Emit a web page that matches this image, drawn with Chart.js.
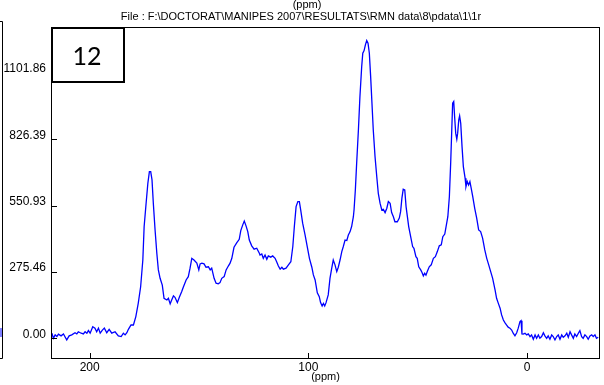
<!DOCTYPE html>
<html>
<head>
<meta charset="utf-8">
<script src="https://cdn.jsdelivr.net/npm/chart.js@4"></script>
<style>
  html, body { margin: 0; padding: 0; background: #fff; }
  canvas { display: block; }
</style>
</head>
<body>
<canvas id="nmrChart" width="604" height="385"></canvas>
<script>
let topTitle = "(ppm)";
let fileTitle = "File : F:\\DOCTORAT\\MANIPES 2007\\RESULTATS\\RMN data\\8\\pdata\\1\\1r";
let xTitle = "(ppm)";
let boxLabel = "12";

let xTicks = [200, 100, 0];
let yTicks = [0, 275.46, 550.93, 826.39, 1101.86];

// chemical shift (ppm)
let ppm = [
  217.3, 216.6, 215.8, 215.0, 214.3, 213.1, 212.0, 210.5, 209.4, 208.2,
  206.7, 205.9, 205.2, 203.9, 202.9, 202.1, 201.3, 200.6, 199.8, 198.6,
  197.6, 196.8, 196.0, 195.2, 194.2, 193.3, 192.2, 191.1, 189.9, 188.4,
  186.9, 185.6, 184.6, 183.8, 183.0, 182.3, 181.1, 180.0, 178.9, 177.8,
  176.7, 175.7, 175.1, 174.2, 173.4, 172.7, 172.1, 171.5, 170.9, 170.1,
  169.3, 168.6, 167.8, 166.8, 166.0, 164.7, 164.0, 163.2, 162.5, 161.7,
  161.0, 159.9, 159.0, 157.9, 157.2, 155.9, 154.9, 154.1, 153.3, 152.3,
  151.0, 150.1, 149.5, 148.7, 147.7, 146.8, 145.7, 144.9, 144.2, 143.1,
  142.2, 141.2, 140.4, 139.6, 138.5, 137.6, 136.6, 135.8, 135.0, 134.0,
  132.7, 131.6, 130.9, 130.0, 129.3, 128.5, 127.7, 127.0, 125.9, 124.8,
  123.6, 122.4, 122.1, 121.3, 120.6, 119.8, 119.0, 118.3, 117.2, 116.3,
  115.2, 114.5, 113.7, 112.9, 112.1, 111.4, 110.2, 109.1, 108.0, 107.1,
  106.4, 105.6, 104.8, 104.1, 103.5, 102.6, 101.5, 100.5, 99.5, 98.4,
  97.7, 96.9, 95.9, 95.0, 94.4, 93.7, 93.1, 92.5, 91.9, 90.9,
  90.1, 89.3, 88.6, 87.8, 87.0, 86.3, 85.5, 84.7, 84.0, 83.2,
  82.4, 81.7, 80.9, 80.2, 79.4, 79.1, 78.5, 77.9, 77.1, 76.4,
  75.6, 75.1, 74.5, 73.9, 73.3, 72.7, 72.1, 71.5, 70.9, 70.3,
  69.5, 68.7, 68.0, 67.2, 66.4, 65.7, 64.9, 64.1, 63.4, 62.6,
  61.9, 61.1, 60.4, 59.3, 58.4, 57.8, 57.2, 56.6, 55.9, 55.3,
  54.7, 54.1, 53.2, 52.3, 51.7, 50.8, 50.2, 49.5, 48.6, 48.0,
  47.4, 46.8, 46.2, 45.6, 44.7, 43.8, 42.8, 41.9, 41.0, 40.1,
  39.2, 38.5, 37.6, 37.0, 36.2, 35.5, 34.9, 34.4, 34.0, 33.5,
  33.1, 32.6, 32.1, 31.7, 31.2, 30.8, 30.3, 29.7, 29.1, 28.3,
  27.9, 27.3, 26.7, 26.1, 25.5, 24.8, 23.9, 23.0, 22.1, 21.2,
  20.3, 19.3, 18.4, 17.5, 16.6, 15.7, 14.6, 13.9, 13.1, 12.3,
  11.6, 10.8, 10.1, 9.3, 8.6, 7.8, 7.0, 6.3, 5.5, 4.7,
  4.0, 3.2, 2.7, 2.3, 1.7, 0.9, 0.1, -0.6, -1.4, -2.1,
  -2.9, -3.7, -4.4, -5.2, -5.9, -6.7, -7.5, -8.2, -9.0, -9.7,
  -10.5, -11.3, -12.0, -12.8, -13.6, -14.3, -15.1, -15.9, -16.6, -17.4,
  -18.2, -18.9, -19.7, -20.4, -21.2, -21.9, -22.7, -23.5, -24.2, -25.0,
  -25.7, -26.5, -27.3, -28.0, -28.8, -29.6, -30.3, -31.1, -31.8, -32.6
];

// intensity at each shift
let intensity = [
  21, 0, 14, 7, 17, 10, 18, -7, 10, 14,
  23, 18, 27, 21, 18, 27, 21, 32, 21, 48,
  42, 27, 42, 21, 34, 42, 23, 37, 21, 27,
  10, 7, 21, 14, 23, 37, 55, 55, 90, 145,
  214, 325, 464, 561, 644, 692, 692, 658, 561, 450,
  353, 284, 249, 221, 166, 159, 166, 143, 159, 176,
  170, 148, 170, 194, 212, 242, 256, 291, 332, 325,
  312, 284, 309, 312, 309, 295, 297, 284, 291, 249,
  229, 226, 231, 249, 256, 284, 300, 312, 332, 378,
  397, 411, 447, 471, 487, 467, 443, 408, 384, 370,
  374, 353, 346, 350, 332, 346, 328, 342, 337, 342,
  332, 318, 300, 287, 295, 287, 291, 305, 318, 381,
  464, 547, 568, 568, 533, 478, 429, 381, 332, 295,
  263, 242, 189, 173, 148, 134, 145, 134, 148, 180,
  249, 291, 325, 305, 277, 295, 325, 360, 381, 408,
  406, 429, 443, 464, 505, 533, 616, 727, 865, 1004,
  1128, 1184, 1195, 1219, 1237, 1226, 1184, 1087, 976, 865,
  755, 671, 602, 561, 533, 536, 522, 540, 568, 561,
  522, 505, 484, 484, 499, 526, 582, 619, 616, 547,
  505, 464, 422, 381, 374, 339, 332, 297, 284, 273,
  259, 270, 262, 277, 297, 305, 332, 339, 360, 384,
  388, 422, 433, 464, 505, 588, 727, 865, 976, 983,
  921, 852, 827, 852, 907, 924, 893, 796, 713, 665,
  630, 651, 637, 651, 623, 588, 540, 499, 450, 443,
  416, 367, 332, 305, 277, 249, 201, 166, 145, 125,
  97, 76, 65, 55, 46, 42, 34, 21, 10, 23,
  42, 69, 73, 18, 17, 21, 14, 18, 7, 14,
  -4, 14, 0, 14, 0, 7, 23, 10, 0, 10,
  -4, 14, 7, -7, 7, 14, -4, 14, 4, 10,
  21, 4, 27, 14, 0, 18, 7, 21, 32, 7,
  0, 14, 7, -4, 10, 14, 7, 14, 0, 4
];

let points = ppm.map((p, i) => ({ x: p, y: intensity[i] }));

// titles, frame, inward ticks and the "12" box
const decorations = {
  id: "decorations",
  afterDraw(chart) {
    let ctx = chart.ctx;
    let area = chart.chartArea;
    let xs = chart.scales.x, ys = chart.scales.y;
    ctx.save();

    ctx.fillStyle = "#000";
    ctx.font = '11px "Liberation Sans", Arial, sans-serif';
    ctx.textAlign = "center";
    ctx.textBaseline = "middle";
    ctx.fillText(topTitle, 307, 5);
    ctx.fillText(fileTitle, 301, 17);

    ctx.strokeStyle = "#000";
    ctx.lineWidth = 1;
    ctx.strokeRect(area.left + 0.5, area.top + 0.5, area.right - area.left - 1, area.bottom - area.top);

    ctx.beginPath();
    xTicks.forEach(v => {
      let px = Math.round(xs.getPixelForValue(v)) + 0.5;
      ctx.moveTo(px, area.bottom);
      ctx.lineTo(px, area.bottom - 5);
    });
    yTicks.forEach(v => {
      let py = Math.round(ys.getPixelForValue(v)) + 0.5;
      ctx.moveTo(area.left, py);
      ctx.lineTo(area.left + 6, py);
    });
    ctx.stroke();

    // edge of the neighbouring panel
    ctx.beginPath();
    ctx.moveTo(0, 21.5); ctx.lineTo(2.5, 21.5); ctx.lineTo(2.5, 358.5); ctx.lineTo(0, 358.5);
    ctx.stroke();
    ctx.strokeStyle = "#0000ff";
    ctx.beginPath();
    ctx.moveTo(1, 328); ctx.lineTo(1, 337);
    ctx.stroke();

    // label box
    ctx.fillStyle = "#fff";
    ctx.fillRect(area.left, area.top, 73, 55);
    ctx.strokeStyle = "#000";
    ctx.lineWidth = 2;
    ctx.strokeRect(area.left + 1, area.top + 1, 72, 54);
    ctx.fillStyle = "#000";
    ctx.font = '25px Lato, "Open Sans", sans-serif';
    ctx.fillText(boxLabel, area.left + 36, area.top + 30);

    ctx.restore();
  }
};

new Chart(document.getElementById("nmrChart"), {
  type: "line",
  data: {
    datasets: [{
      data: points,
      borderColor: "#0000ff",
      borderWidth: 1.3,
      pointRadius: 0,
      tension: 0,
      fill: false
    }]
  },
  options: {
    responsive: false,
    animation: false,
    devicePixelRatio: 1,
    parsing: true,
    layout: { padding: { top: 27, right: 4, left: 0, bottom: 0 } },
    plugins: { legend: { display: false }, tooltip: { enabled: false }, title: { display: false } },
    scales: {
      x: {
        type: "linear",
        reverse: true,
        min: -33.4,
        max: 217.7,
        grid: { display: false, drawTicks: false },
        border: { display: false },
        afterBuildTicks: s => { s.ticks = xTicks.map(v => ({ value: v })); },
        afterFit: s => { s.height = 27; },
        ticks: {
          color: "#000",
          padding: 2,
          maxRotation: 0,
          font: { family: '"Liberation Sans", Arial, sans-serif', size: 12 },
          callback: v => String(v)
        },
        title: {
          display: true,
          text: xTitle,
          color: "#000",
          padding: { top: 0, bottom: 1 },
          font: { family: '"Liberation Sans", Arial, sans-serif', size: 11 }
        }
      },
      y: {
        type: "linear",
        min: -82,
        max: 1293,
        grid: { display: false, drawTicks: false },
        border: { display: false },
        afterBuildTicks: s => { s.ticks = yTicks.map(v => ({ value: v })); },
        afterFit: s => { s.width = 51; },
        ticks: {
          color: "#000",
          padding: 5,
          labelOffset: -4,
          font: { family: '"Liberation Sans", Arial, sans-serif', size: 12 },
          callback: v => Number(v).toFixed(2)
        }
      }
    }
  },
  plugins: [decorations]
});
</script>
</body>
</html>
